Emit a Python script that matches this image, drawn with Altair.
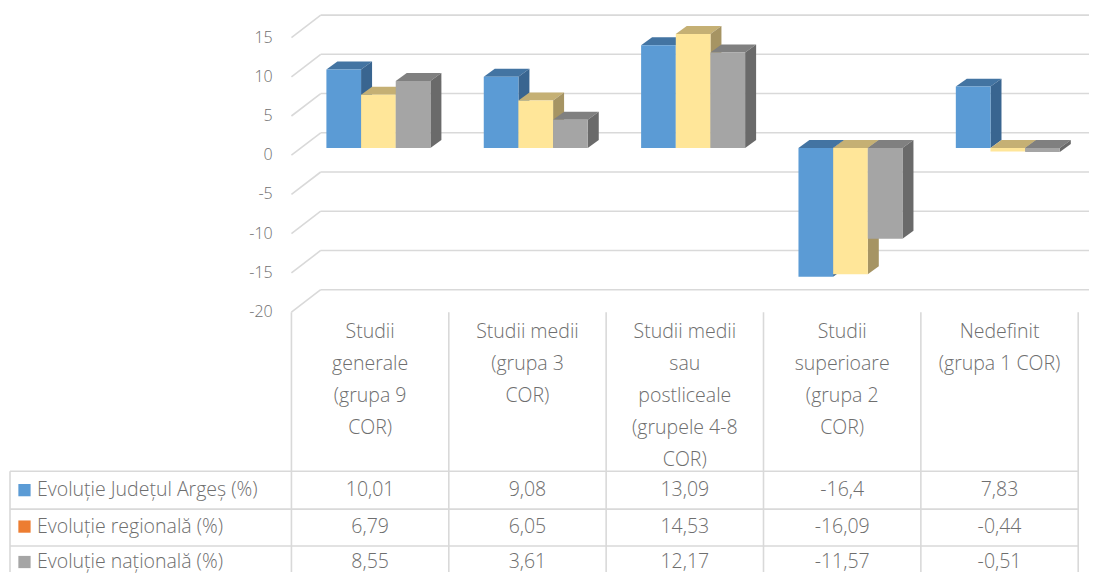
import altair as alt
import pandas as pd

# ---------------- data ----------------
categories = [
    "Studii generale (grupa 9 COR)",
    "Studii medii (grupa 3 COR)",
    "Studii medii sau postliceale (grupele 4-8 COR)",
    "Studii superioare (grupa 2 COR)",
    "Nedefinit (grupa 1 COR)",
]
category_lines = [
    ["Studii", "generale", "(grupa 9", "COR)"],
    ["Studii medii", "(grupa 3", "COR)"],
    ["Studii medii", "sau", "postliceale", "(grupele 4-8", "COR)"],
    ["Studii", "superioare", "(grupa 2", "COR)"],
    ["Nedefinit", "(grupa 1 COR)"],
]
series_names = ["Evoluție Județul Argeș (%)", "Evoluție regională (%)", "Evoluție națională (%)"]
arges = [10.01, 9.08, 13.09, -16.4, 7.83]
regional = [6.79, 6.05, 14.53, -16.09, -0.44]
national = [8.55, 3.61, 12.17, -11.57, -0.51]
series_values = [arges, regional, national]
y_ticks = [15, 10, 5, 0, -5, -10, -15, -20]

front_colors = ["#5B9BD5", "#FFE699", "#A5A5A5"]
top_colors = ["#4374A2", "#C5B074", "#808080"]
side_colors = ["#396590", "#A69463", "#6A6A6A"]
legend_colors = ["#5B9BD5", "#ED7D31", "#A5A5A5"]

GRID = "#D9D9D9"
TEXT = "#6E6E6E"
FONT = "Open Sans"
TABLE_FS = 19.5

# ---------------- layout ----------------
W, H = 1082, 565
MARGIN = 8
COL_PX = 157.5      # width of one category column (px)
COL0_PX = 291.7     # page x of first column's left edge
Y0_PX = 148.3       # page y of value 0 on the bars' front plane
PX_UNIT = 7.86      # px per value unit


def cx(px):
    return (px - COL0_PX) / COL_PX


def vy(py):
    return (Y0_PX - py) / PX_UNIT


XMIN, XMAX = cx(MARGIN), cx(MARGIN + W)
YMIN, YMAX = vy(MARGIN + H), vy(MARGIN)
xs = alt.Scale(domain=[XMIN, XMAX], nice=False, zero=False)
ys = alt.Scale(domain=[YMIN, YMAX], nice=False, zero=False)

BAR_OFF = 35.0 / COL_PX
BAR_W = 34.7 / COL_PX
DX = 11.0 / COL_PX
DY = 8.0 / PX_UNIT
BACK_DY = 15.3 / PX_UNIT
FRONT_DY = -7.2 / PX_UNIT
BACK_X = cx(321)

HEADER_TOP = -20 + FRONT_DY
ROW_LINES = [vy(472), vy(510), vy(547)]
ROW_CENTERS = [vy(491), vy(527.5), vy(563)]
TABLE_LEFT = cx(10)
n = len(categories)


def X(f="x"):
    return alt.X(f + ":Q", scale=xs, axis=None)


def Y(f="y"):
    return alt.Y(f + ":Q", scale=ys, axis=None, stack=None)


layers = []

# ---- 3D grid: back wall and side-floor diagonals ----
back = pd.DataFrame({"x": BACK_X, "x2": XMAX, "y": [t + BACK_DY for t in y_ticks]})
back["y2"] = back["y"]
diag = pd.DataFrame({
    "x": 0.0, "x2": BACK_X,
    "y": [t + FRONT_DY for t in y_ticks],
    "y2": [t + BACK_DY for t in y_ticks],
})
for df in (back, diag):
    layers.append(alt.Chart(df).mark_rule(color=GRID, strokeWidth=1.6).encode(
        x=X("x"), x2="x2:Q", y=Y("y"), y2="y2:Q"))

# ---- y-axis labels ----
ylab = pd.DataFrame({"x": cx(273), "y": [t + FRONT_DY for t in y_ticks],
                     "t": [str(t) for t in y_ticks]})
layers.append(alt.Chart(ylab).mark_text(align="right", baseline="middle", fontSize=16,
                                        font=FONT, fontWeight=300, color=TEXT).encode(
    x=X("x"), y=Y("y"), text="t:N"))

# ---- bars (3D) ----
for j, vals in enumerate(series_values):
    tops, sides, fronts = [], [], []
    for i, v in enumerate(vals):
        xl = i + BAR_OFF + j * BAR_W
        xr = xl + BAR_W
        t, b = max(v, 0.0), min(v, 0.0)
        bid = f"{i}-{j}"
        tops += [
            {"bar": bid, "x": xl, "y": t, "y2": t},
            {"bar": bid, "x": xl + DX, "y": t + DY, "y2": t},
            {"bar": bid, "x": xr, "y": t + DY, "y2": t},
            {"bar": bid, "x": xr + DX, "y": t + DY, "y2": t + DY},
        ]
        sides += [
            {"bar": bid, "x": xr, "y": t, "y2": b},
            {"bar": bid, "x": xr + DX, "y": t + DY, "y2": b + DY},
        ]
        fronts.append({"x": xl, "x2": xr, "y": t, "y2": b})
    layers.append(alt.Chart(pd.DataFrame(tops)).mark_area(color=top_colors[j]).encode(
        x=X(), y=Y(), y2="y2:Q", detail="bar:N"))
    layers.append(alt.Chart(pd.DataFrame(sides)).mark_area(color=side_colors[j]).encode(
        x=X(), y=Y(), y2="y2:Q", detail="bar:N"))
    layers.append(alt.Chart(pd.DataFrame(fronts)).mark_rect(color=front_colors[j]).encode(
        x=X("x"), x2="x2:Q", y=Y("y"), y2="y2:Q"))

# ---- data table lines ----
vlines = pd.DataFrame({"x": [float(k) for k in range(n + 1)], "y": HEADER_TOP, "y2": YMIN})
vlines = pd.concat([vlines, pd.DataFrame({"x": [TABLE_LEFT], "y": [ROW_LINES[0]], "y2": [YMIN]})])
vlines["x2"] = vlines["x"]
hlines = pd.DataFrame({"x": TABLE_LEFT, "x2": float(n), "y": ROW_LINES})
hlines["y2"] = hlines["y"]
for df in (vlines, hlines):
    layers.append(alt.Chart(df).mark_rule(color=GRID, strokeWidth=1.6).encode(
        x=X("x"), x2="x2:Q", y=Y("y"), y2="y2:Q"))

# ---- category header labels ----
head = []
for i, lines in enumerate(category_lines):
    for k, line in enumerate(lines):
        head.append({"x": i + 0.5, "y": vy(333 + 32 * k), "t": line})
layers.append(alt.Chart(pd.DataFrame(head)).mark_text(
    align="center", baseline="middle", fontSize=TABLE_FS, font=FONT, fontWeight=300, color=TEXT).encode(
    x=X("x"), y=Y("y"), text="t:N"))

# ---- row labels, keys and values ----
rows = pd.DataFrame({"x": cx(37), "y": ROW_CENTERS, "t": series_names})
layers.append(alt.Chart(rows).mark_text(
    align="left", baseline="middle", fontSize=TABLE_FS, font=FONT, fontWeight=300, color=TEXT).encode(
    x=X("x"), y=Y("y"), text="t:N"))
keys = pd.DataFrame({"x": cx(24.5), "y": ROW_CENTERS, "c": legend_colors})
layers.append(alt.Chart(keys).mark_square(size=150, opacity=1).encode(
    x=X("x"), y=Y("y"), color=alt.Color("c:N", scale=None)))
cells = []
for j, vals in enumerate(series_values):
    for i, v in enumerate(vals):
        cells.append({"x": i + 0.5, "y": ROW_CENTERS[j], "t": str(v).replace(".", ",")})
layers.append(alt.Chart(pd.DataFrame(cells)).mark_text(
    align="center", baseline="middle", fontSize=TABLE_FS, font=FONT, fontWeight=300, color=TEXT).encode(
    x=X("x"), y=Y("y"), text="t:N"))

chart = alt.layer(*layers).properties(
    width=W, height=H, padding=0,
    autosize=alt.AutoSizeParams(type="fit", contains="padding"),
).configure_view(stroke=None)

chart.save("out.html", embed_options={"renderer": "svg", "actions": False})
